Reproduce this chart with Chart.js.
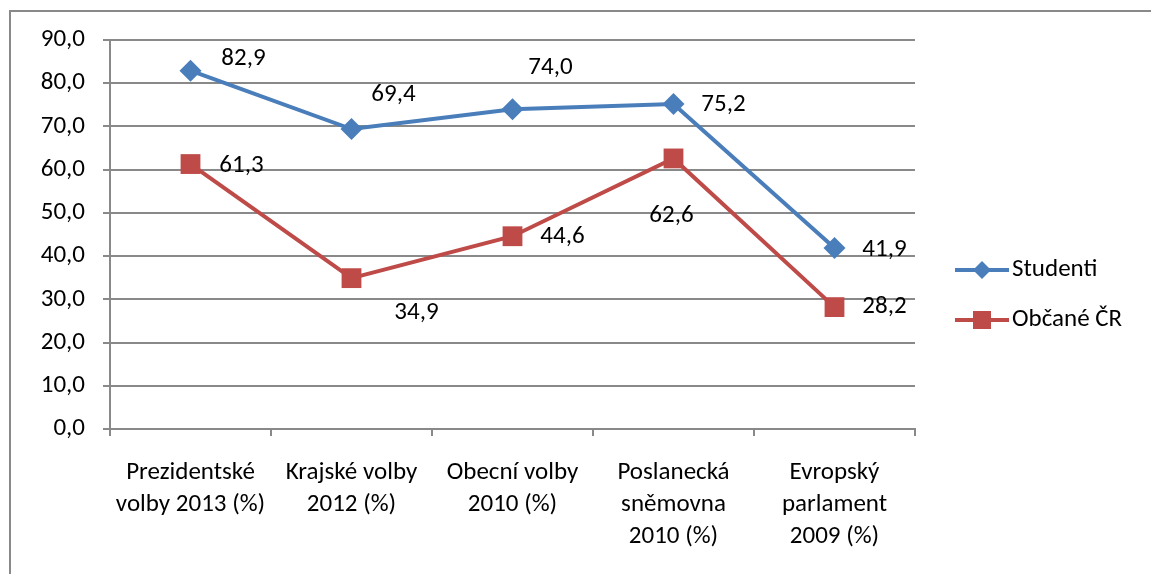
<!DOCTYPE html>
<html>
<head>
<meta charset="utf-8">
<script src="https://cdn.jsdelivr.net/npm/chart.js@4/dist/chart.umd.min.js"></script>
<style>
  html, body { margin: 0; padding: 0; background: #fff; }
  #wrap { position: relative; width: 1151px; height: 574px; }
</style>
</head>
<body>
<div id="wrap"><canvas id="chart" width="1151" height="574"></canvas></div>
<script>
const categories = [
  ["Prezidentské", "volby 2013 (%)"],
  ["Krajské volby", "2012 (%)"],
  ["Obecní volby", "2010 (%)"],
  ["Poslanecká", "sněmovna", "2010 (%)"],
  ["Evropský", "parlament", "2009 (%)"]
];
const studenti = [82.9, 69.4, 74.0, 75.2, 41.9];
const obcane = [61.3, 34.9, 44.6, 62.6, 28.2];
const seriesNames = ["Studenti", "Občané ČR"];

// where each value label sits relative to its point
const labelShift = [
  [[53, -12], [42, -34], [38, -41], [50, 1], [50, 2]],
  [[51, 2], [65, 35], [50, 1], [-2, 57], [50, 0]]
];

const FONT = "Carlito, Calibri, Lato, sans-serif";
const blue = "#4A7EBB";
const red = "#BE4B48";
const gray = "#898989";

const fmt = v => v.toFixed(1).replace(".", ",");

const frame = {
  id: "frame",
  beforeDraw(c) {
    const ctx = c.ctx;
    ctx.save();
    ctx.fillStyle = "#fff";
    ctx.fillRect(0, 0, c.width, c.height);
    ctx.strokeStyle = gray;
    ctx.lineWidth = 2;
    ctx.beginPath();
    ctx.moveTo(10, c.height);
    ctx.lineTo(10, 11);
    ctx.lineTo(c.width, 11);
    ctx.stroke();
    ctx.restore();
  }
};

const valueLabels = {
  id: "valueLabels",
  afterDatasetsDraw(c) {
    const ctx = c.ctx;
    ctx.save();
    ctx.font = "25px " + FONT;
    ctx.fillStyle = "#000";
    ctx.textAlign = "center";
    ctx.textBaseline = "middle";
    c.data.datasets.forEach((ds, i) => {
      c.getDatasetMeta(i).data.forEach((pt, j) => {
        const s = labelShift[i][j];
        ctx.fillText(fmt(ds.data[j]), pt.x + s[0], pt.y + s[1]);
      });
    });
    ctx.restore();
  }
};

const sideLegend = {
  id: "sideLegend",
  afterDraw(c) {
    const ctx = c.ctx;
    const x0 = c.chartArea.right + 40;
    const rows = [270, 320];
    ctx.save();
    ctx.font = "25px " + FONT;
    ctx.textBaseline = "middle";
    c.data.datasets.forEach((ds, i) => {
      const y = rows[i];
      ctx.strokeStyle = ds.borderColor;
      ctx.lineWidth = 4;
      ctx.beginPath();
      ctx.moveTo(x0, y);
      ctx.lineTo(x0 + 54, y);
      ctx.stroke();
      ctx.fillStyle = ds.borderColor;
      const mx = x0 + 27;
      ctx.beginPath();
      if (ds.pointStyle === "rectRot") {
        ctx.moveTo(mx, y - 9);
        ctx.lineTo(mx + 9, y);
        ctx.lineTo(mx, y + 9);
        ctx.lineTo(mx - 9, y);
        ctx.closePath();
      } else {
        ctx.rect(mx - 9, y - 9, 18, 18);
      }
      ctx.fill();
      ctx.fillStyle = "#000";
      ctx.fillText(ds.label, x0 + 57, y);
    });
    ctx.restore();
  }
};

new Chart(document.getElementById("chart"), {
  type: "line",
  data: {
    labels: categories,
    datasets: [
      {
        label: seriesNames[0],
        data: studenti,
        borderColor: blue,
        backgroundColor: blue,
        borderWidth: 4,
        pointStyle: "rectRot",
        pointRadius: 11,
        pointHoverRadius: 11,
        pointBorderWidth: 0,
        tension: 0
      },
      {
        label: seriesNames[1],
        data: obcane,
        borderColor: red,
        backgroundColor: red,
        borderWidth: 4,
        pointStyle: "rect",
        pointRadius: 14,
        pointHoverRadius: 14,
        pointBorderWidth: 0,
        tension: 0
      }
    ]
  },
  options: {
    responsive: false,
    animation: false,
    events: [],
    layout: { padding: { left: 0, top: 40, right: 236, bottom: 0 } },
    plugins: {
      legend: { display: false },
      tooltip: { enabled: false }
    },
    scales: {
      x: {
        offset: true,
        grid: {
          display: true,
          offset: true,
          drawOnChartArea: false,
          drawTicks: true,
          tickLength: 7,
          color: gray,
          lineWidth: 2
        },
        border: { display: true, color: gray, width: 2 },
        ticks: {
          color: "#000",
          padding: 21,
          maxRotation: 0,
          autoSkip: false,
          font: { family: FONT, size: 25, lineHeight: "32px" }
        },
        afterFit(s) { s.height = 145; }
      },
      y: {
        min: 0,
        max: 90,
        grid: {
          color: gray,
          lineWidth: 2,
          drawTicks: true,
          tickLength: 7
        },
        border: { display: true, color: gray, width: 2 },
        ticks: {
          stepSize: 10,
          color: "#000",
          padding: 18,
          font: { family: FONT, size: 25 },
          callback: v => fmt(v)
        },
        afterFit(s) { s.width = 110; }
      }
    }
  },
  plugins: [frame, valueLabels, sideLegend]
});
</script>
</body>
</html>
